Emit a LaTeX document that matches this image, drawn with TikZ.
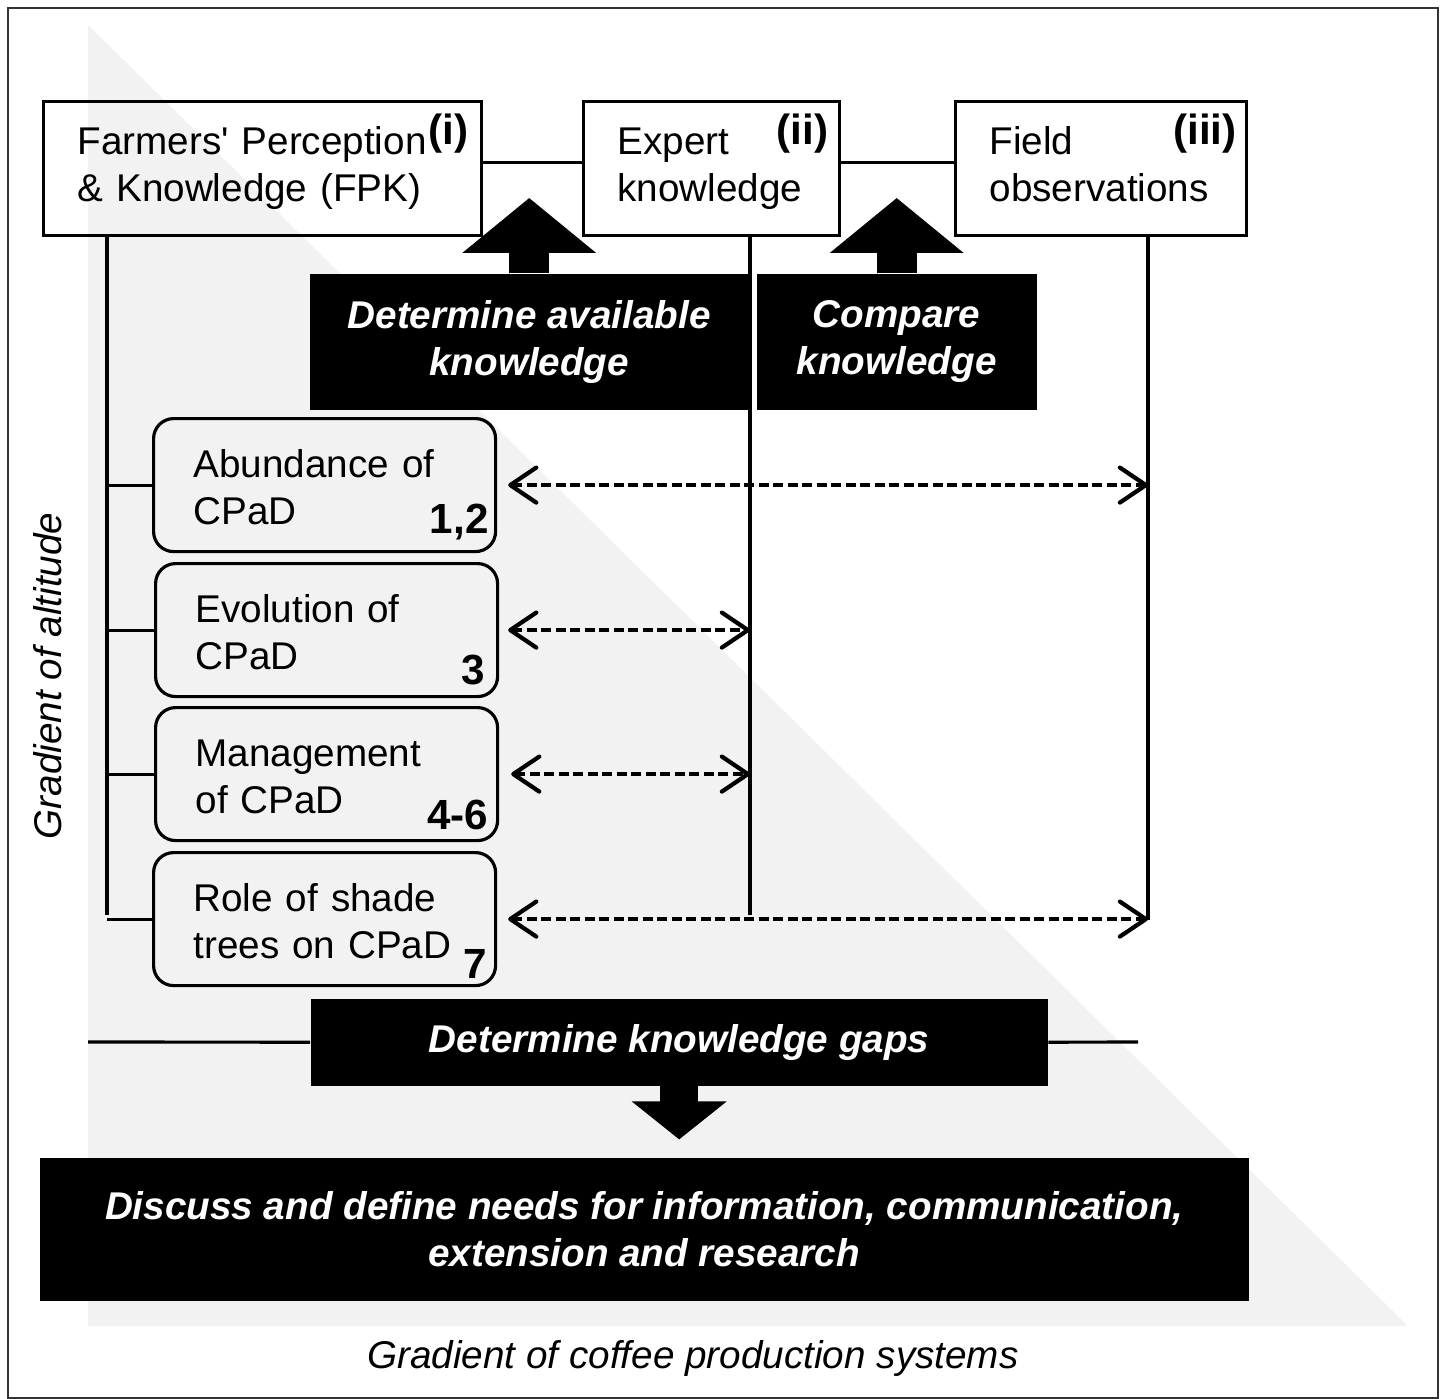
\documentclass[tikz,border=0pt]{standalone}
\usepackage{fontspec}
\setmainfont{Liberation Sans}
\usetikzlibrary{arrows.meta}
\definecolor{trigray}{RGB}{242,242,242}
\tikzset{
  txt/.style={font=\fontsize{11pt}{13.4pt}\selectfont},
  srcbox/.style={txt, draw, line width=0.9pt, align=left, inner xsep=3.4mm, minimum height=13.4mm, anchor=north west,
    execute at begin node=\strut, execute at end node=\strut},
  topicbox/.style={txt, draw, line width=0.9pt, rounded corners=2mm, align=left, inner xsep=4mm, text width=26.2mm, minimum height=13.3mm, anchor=north west,
    execute at begin node=\strut},
  blackbox/.style={txt, fill=black, text=white, font=\fontsize{11pt}{13.4pt}\selectfont\bfseries\itshape, align=center, anchor=north west},
  tag/.style={font=\fontsize{12pt}{14pt}\selectfont\bfseries, inner sep=0pt},
  link/.style={line width=0.9pt},
  dasharrow/.style={{Straight Barb[length=2.6mm,width=3.5mm,line width=1.2pt,round]}-{Straight Barb[length=2.6mm,width=3.5mm,line width=1.2pt,round]},
    line width=1.05pt, dash pattern=on 1.0mm off 0.45mm},
  bigup/.style={line width=4mm, -{Triangle[length=5.5mm,width=13.1mm]}},
  bigdown/.style={line width=3.8mm, -{Triangle[length=3.8mm,width=9.3mm]}}
}
\begin{document}
\begin{tikzpicture}[x=0.1mm, y=-0.1mm]
  \useasboundingbox (0,0) rectangle (1445,1399);
  \draw[line width=0.5pt, black!80] (8,8) rectangle (1438,1398);
  % background gradient
  \fill[trigray] (88,25) -- (88,1326) -- (1408,1326) -- cycle;

  % knowledge sources
  \node[srcbox, text width=37mm] (fpk) at (42,100) {Farmers\textquotesingle{} Perception\\\& Knowledge (FPK)};
  \node[srcbox, text width=18.8mm] (expert) at (582,100) {Expert\\knowledge};
  \node[srcbox, text width=22.3mm] (field) at (954,100) {Field\\observations};
  \node[tag, anchor=north east] (ti) at ([shift={(-1.4mm,-1.3mm)}]fpk.north east) {(i)};
  \node[tag, anchor=north east] (tii) at ([shift={(-1.2mm,-1.3mm)}]expert.north east) {(ii)};
  \node[tag, anchor=north east] (tiii) at ([shift={(-1.1mm,-1.3mm)}]field.north east) {(iii)};
  \draw[link] ([yshift=0.6mm]fpk.east) -- ([yshift=0.6mm]expert.west);
  \draw[link] ([yshift=0.6mm]expert.east) -- ([yshift=0.6mm]field.west);

  % comparison steps
  \node[blackbox, minimum width=43.9mm, minimum height=13.6mm] (avail) at (309,273) {Determine available\\knowledge};
  \node[blackbox, minimum width=28mm, minimum height=13.6mm] (compare) at (756,273) {Compare\\knowledge};
  \draw[bigup] (avail.north) -- ++(0,-75);
  \draw[bigup] (compare.north) -- ++(0,-75);

  % topics
  \node[topicbox] (abund) at (152,417) {Abundance of\\CPaD};
  \node[topicbox] (evol) at (154,562) {Evolution of\\CPaD};
  \node[topicbox] (manag) at (154,706) {Management\\of CPaD};
  \node[topicbox] (shade) at (152,851) {Role of shade\\trees on CPaD};
  \node[tag, anchor=south east] (n1) at ([shift={(-0.8mm,1.2mm)}]abund.south east) {1,2};
  \node[tag, anchor=south east] (n2) at ([shift={(-1.4mm,1.2mm)}]evol.south east) {3};
  \node[tag, anchor=south east] (n3) at ([shift={(-1.0mm,1.2mm)}]manag.south east) {4-6};
  \node[tag, anchor=south east] (n4) at ([shift={(-1.0mm,0.8mm)}]shade.south east) {7};

  % vertical lines
  \coordinate (fpkbot) at (107,915);
  \coordinate (expbot) at (750,915);
  \coordinate (fieldbot) at (1148,920);
  \draw[link] (fpkbot |- fpk.south) -- (fpkbot);
  \draw[link] (expbot |- expert.south) -- (expbot);
  \draw[link] (fieldbot |- field.south) -- (fieldbot);
  \foreach \t in {abund, evol, manag, shade}
    \draw[link] (\t.west) -- (\t.west -| fpkbot);

  % comparisons
  \draw[dasharrow] ([xshift=1.1mm]abund.east) -- (abund.east -| fieldbot);
  \draw[dasharrow] ([xshift=0.9mm]evol.east) -- (evol.east -| expbot);
  \draw[dasharrow] ([xshift=1.2mm]manag.east) -- (manag.east -| expbot);
  \draw[dasharrow] ([xshift=1.1mm]shade.east) -- (shade.east -| fieldbot);

  % gaps and needs
  \coordinate (gapl) at (88,1042);
  \coordinate (gapr) at (1138,1042);
  \node[blackbox, minimum width=73.7mm, minimum height=8.7mm] (gaps) at (310,998) {Determine knowledge gaps};
  \draw[link] (gapl) -- (gaps.west);
  \draw[link] (gaps.east) -- (gapr);
  \draw[bigdown] (gaps.south) -- ++(0,53);
  \node[blackbox, minimum width=120.9mm, minimum height=14.3mm] (needs) at (39,1157) {Discuss and define needs for information, communication,\\extension and research};

  % axes
  \node[txt, font=\fontsize{11pt}{13.4pt}\selectfont\itshape, rotate=90] (altitude) at (48,676) {Gradient of altitude};
  \node[txt, font=\fontsize{11pt}{13.4pt}\selectfont\itshape] (coffee) at (693,1358) {Gradient of coffee production systems};
\end{tikzpicture}
\end{document}
